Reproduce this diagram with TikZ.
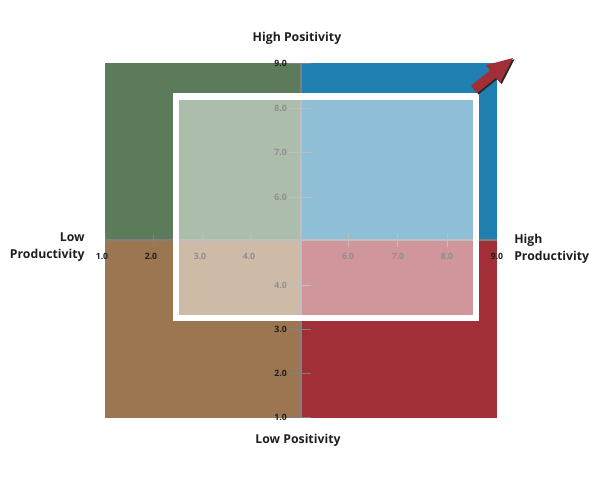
\documentclass[tikz,border=0pt]{standalone}
\usepackage{fontspec}
\setmainfont{Open Sans}
\usepackage{tikz}
\definecolor{quadgreen}{RGB}{91,123,90}
\definecolor{quadblue}{RGB}{31,127,176}
\definecolor{quadbrown}{RGB}{155,118,80}
\definecolor{quadred}{RGB}{162,46,56}
\definecolor{axisgray}{RGB}{128,128,128}
\definecolor{labeltext}{RGB}{30,30,30}
\tikzset{
  axislabel/.style={font=\bfseries\fontsize{9.2}{12.3}\selectfont, text=labeltext, inner sep=0pt},
  ticknum/.style={font=\bfseries\fontsize{6.5}{7}\selectfont, text=labeltext, inner sep=0pt},
  tickline/.style={axisgray, line width=0.75pt}
}

\begin{document}
\begin{tikzpicture}[x=0.75pt,y=-0.75pt]
\useasboundingbox (0,0) rectangle (600,480);
% four quadrants
\fill [quadgreen] (105,63) rectangle (301,240);
\fill [quadblue] (301,63) rectangle (497,240);
\fill [quadbrown] (105,240) rectangle (301,418);
\fill [quadred] (301,240) rectangle (497,418);
% axes
\draw [axisgray, line width=2.2pt] (301,63) -- (301,418);
\draw [axisgray, line width=2.2pt] (105,240) -- (497,240);
\draw [tickline] (105,234) -- (105,247);
\draw [tickline] (153,234) -- (153,247);
\draw [tickline] (202,234) -- (202,247);
\draw [tickline] (250,234) -- (250,247);
\draw [tickline] (348,234) -- (348,247);
\draw [tickline] (397,234) -- (397,247);
\draw [tickline] (447,234) -- (447,247);
\draw [tickline] (288,63) -- (311,63);
\draw [tickline] (288,108) -- (311,108);
\draw [tickline] (288,152) -- (311,152);
\draw [tickline] (288,197) -- (311,197);
\draw [tickline] (288,285) -- (311,285);
\draw [tickline] (288,329) -- (311,329);
\draw [tickline] (288,373) -- (311,373);
\draw [tickline] (288,417) -- (311,417);
% tick numbers
\node [ticknum] (x1) at (102,256) {1.0};
\node [ticknum] (x2) at (151,256) {2.0};
\node [ticknum] (x3) at (200,256) {3.0};
\node [ticknum] (x4) at (249,256) {4.0};
\node [ticknum] (x6) at (348,256) {6.0};
\node [ticknum] (x7) at (398,256) {7.0};
\node [ticknum] (x8) at (447,256) {8.0};
\node [ticknum] (x9) at (497,256) {9.0};
\node [ticknum, anchor=east] (y9) at (287,63) {9.0};
\node [ticknum, anchor=east] (y8) at (287,108) {8.0};
\node [ticknum, anchor=east] (y7) at (287,152) {7.0};
\node [ticknum, anchor=east] (y6) at (287,197) {6.0};
\node [ticknum, anchor=east] (y4) at (287,285) {4.0};
\node [ticknum, anchor=east] (y3) at (287,329) {3.0};
\node [ticknum, anchor=east] (y2) at (287,373) {2.0};
\node [ticknum, anchor=east] (y1) at (287,417) {1.0};
% white frame
\draw [white, line width=5.2pt, fill=white, fill opacity=0.5] (176,96.5) rectangle (476,318);
% arrow with shadow
\fill [black!85] (472.5,87) -- (491.5,71.6) -- (487.3,66.4) -- (514.5,59.2) -- (501.7,84.2) -- (497.5,79) -- (478.5,94.4) -- cycle;
\fill [quadred] (471,85.8) -- (490,70.4) -- (485.8,65.2) -- (513,58) -- (500.2,83) -- (496,77.8) -- (477,93.2) -- cycle;
% axis titles
\node [axislabel] (highpos) at (297,38) {High Positivity};
\node [axislabel] (lowpos) at (298,440) {Low Positivity};
\node [axislabel, align=right, anchor=east] (lowprod) at (85,247) {Low\\Productivity};
\node [axislabel, align=left, anchor=west] (highprod) at (514,249) {High\\Productivity};
\end{tikzpicture}
\end{document}
